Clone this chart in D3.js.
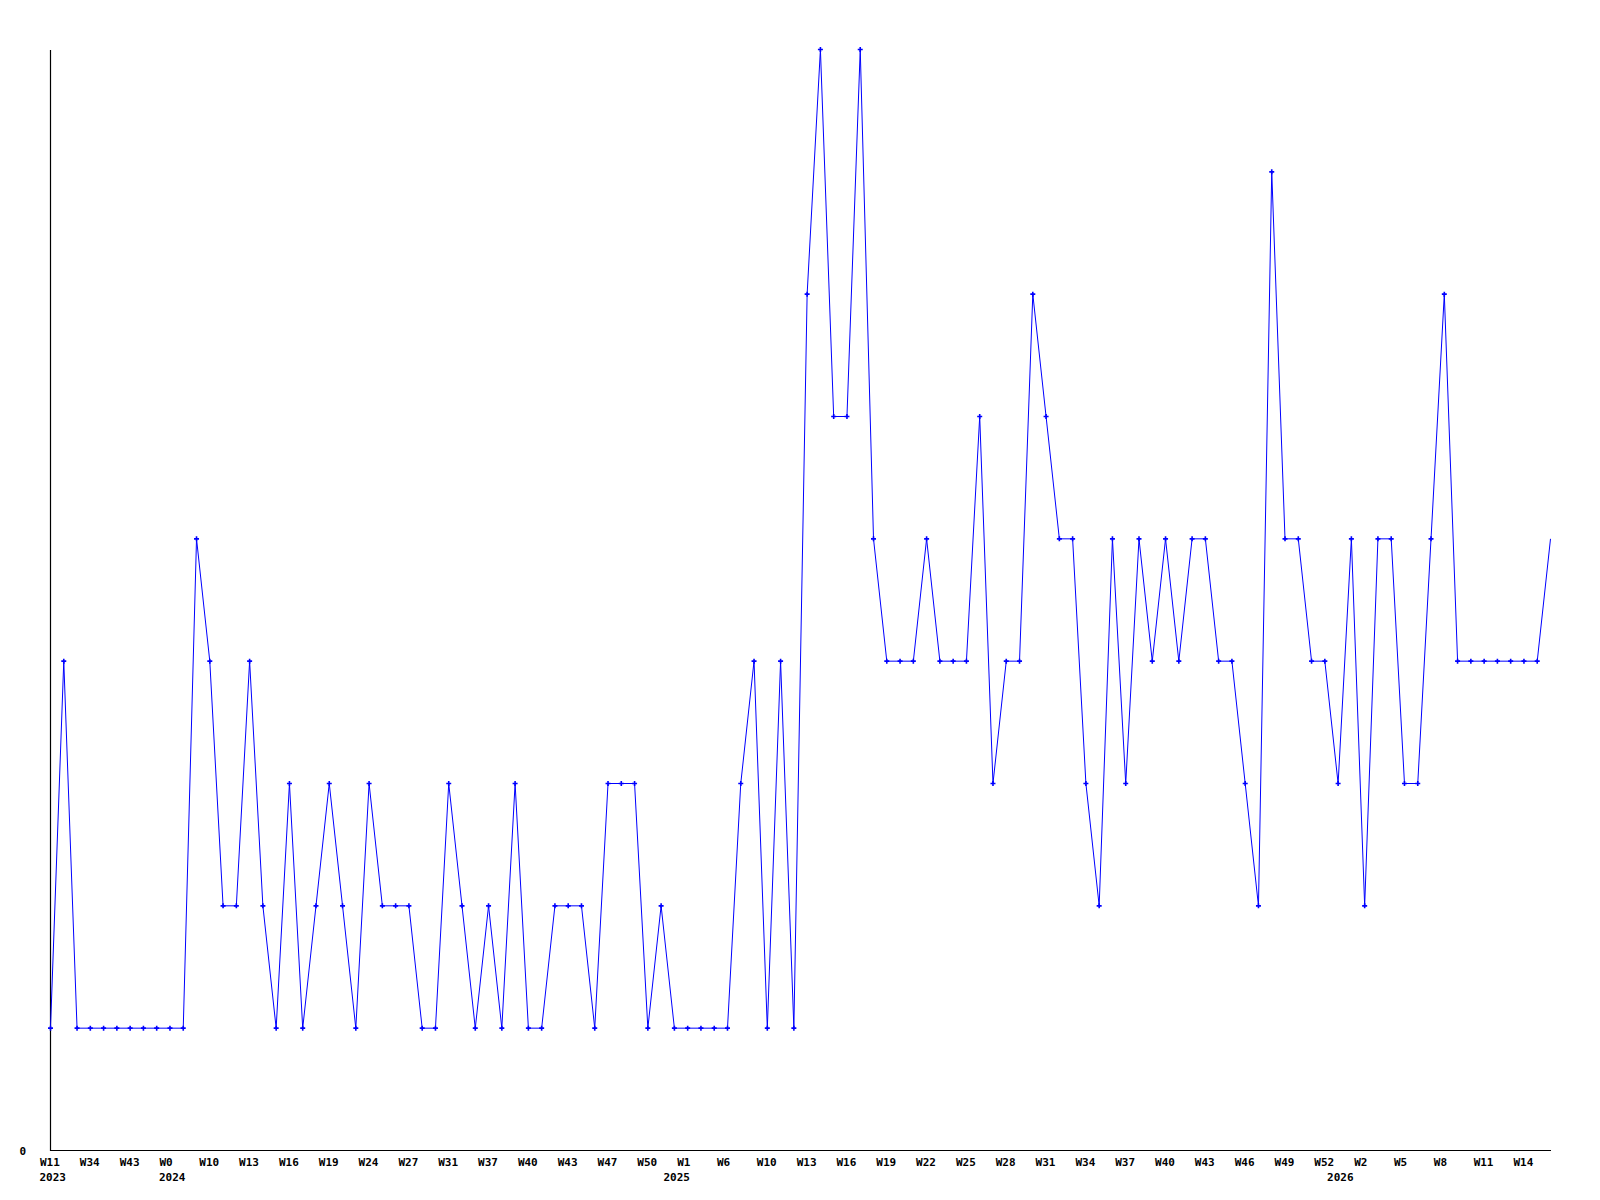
<!DOCTYPE html>
<meta charset="utf-8">
<style>
body { margin: 0; background: #fff; }
.line { fill: none; stroke: #0000ff; stroke-width: 1px; }
.dot { fill: none; stroke: #0000ff; stroke-width: 1.6px; }
.axis path { stroke: #000; stroke-width: 1.2px; }
.axis text, .year { font-family: "DejaVu Sans Mono", monospace; font-weight: bold; font-size: 11px; fill: #000; }
</style>
<div id="chart"></div>
<script src="https://d3js.org/d3.v7.min.js"></script>
<script>
// one value per week-ish sample
var values = [1, 4, 1, 1, 1, 1, 1, 1, 1, 1, 1, 5, 4, 2, 2, 4, 2, 1, 3, 1,
              2, 3, 2, 1, 3, 2, 2, 2, 1, 1, 3, 2, 1, 2, 1, 3, 1, 1, 2, 2,
              2, 1, 3, 3, 3, 1, 2, 1, 1, 1, 1, 1, 3, 4, 1, 4, 1, 7, 9, 6,
              6, 9, 5, 4, 4, 4, 5, 4, 4, 4, 6, 3, 4, 4, 7, 6, 5, 5, 3, 2,
              5, 3, 5, 4, 5, 4, 5, 5, 4, 4, 3, 2, 8, 5, 5, 4, 4, 3, 5, 2,
              5, 5, 3, 3, 5, 7, 4, 4, 4, 4, 4, 4, 4, 5];
// labels shown every third sample
var tickLabels = ["W11", "W34", "W43", "W0", "W10", "W13", "W16", "W19", "W24", "W27",
                  "W31", "W37", "W40", "W43", "W47", "W50", "W1", "W6", "W10", "W13",
                  "W16", "W19", "W22", "W25", "W28", "W31", "W34", "W37", "W40", "W43",
                  "W46", "W49", "W52", "W2", "W5", "W8", "W11", "W14"];
// sample index where each year starts
var yearIdx = [0, 9, 47, 97];
var yearLabels = ["2023", "2024", "2025", "2026"];

var width = 1600, height = 1200;
var svg = d3.select("#chart").append("svg")
    .attr("width", width)
    .attr("height", height);

var x = d3.scaleLinear().domain([0, values.length - 1]).range([50.5, 1550.5]);
var y = d3.scaleLinear().domain([0, 9]).range([1150.5, 49.5]);

var tickIdx = tickLabels.map(function(d, i) { return i * 3; });

svg.append("clipPath").attr("id", "clip")
  .append("rect").attr("x", 44).attr("y", 40).attr("width", 1502).attr("height", 1120);

// x axis
var gx = svg.append("g")
    .attr("class", "axis")
    .attr("transform", "translate(0,1150)")
    .call(d3.axisBottom(x)
      .tickValues(tickIdx)
      .tickSize(0)
      .tickPadding(8)
      .tickFormat(function(d) { return tickLabels[d / 3]; }));
gx.selectAll("text").attr("text-anchor", "start").attr("x", -11);

svg.selectAll(".year")
    .data(yearIdx)
  .enter().append("text")
    .attr("class", "year")
    .attr("x", function(d) { return x(d) - 11; })
    .attr("y", 1181)
    .text(function(d, i) { return yearLabels[i]; });

// y axis
svg.append("g")
    .attr("class", "axis")
    .attr("transform", "translate(50,0)")
    .call(d3.axisLeft(y)
      .tickValues([0])
      .tickSize(0)
      .tickSizeOuter(0)
      .tickPadding(24)
      .tickFormat(d3.format("d")));

var line = d3.line()
    .x(function(d, i) { return x(i); })
    .y(function(d) { return y(d); });

svg.append("path")
    .datum(values)
    .attr("class", "line")
    .attr("d", line);

svg.append("g")
    .attr("clip-path", "url(#clip)")
  .selectAll(".dot")
    .data(values)
  .enter().append("path")
    .attr("class", "dot")
    .attr("d", function(d, i) {
      var cx = x(i), cy = y(d);
      return "M" + (cx - 2.5) + "," + cy + "H" + (cx + 2.5) + "M" + cx + "," + (cy - 2.5) + "V" + (cy + 2.5);
    });
</script>
